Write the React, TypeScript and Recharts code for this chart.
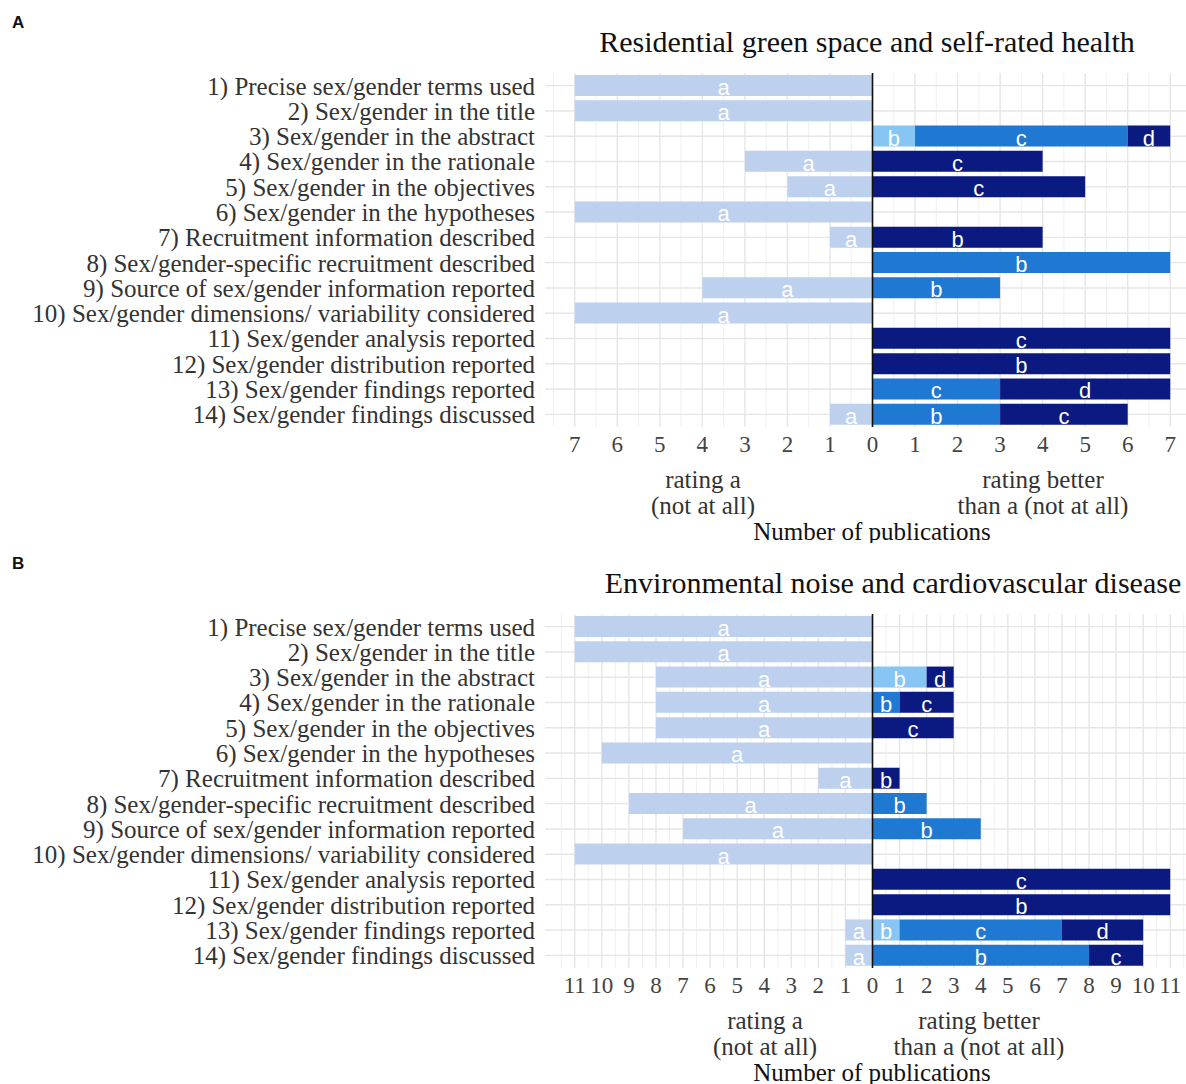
import React from 'react';
import { BarChart, Bar, XAxis, YAxis, CartesianGrid, ReferenceLine, LabelList, Cell } from 'recharts';

const categories = [
  '1) Precise sex/gender terms used',
  '2) Sex/gender in the title',
  '3) Sex/gender in the abstract',
  '4) Sex/gender in the rationale',
  '5) Sex/gender in the objectives',
  '6) Sex/gender in the hypotheses',
  '7) Recruitment information described',
  '8) Sex/gender-specific recruitment described',
  '9) Source of sex/gender information reported',
  '10) Sex/gender dimensions/ variability considered',
  '11) Sex/gender analysis reported',
  '12) Sex/gender distribution reported',
  '13) Sex/gender findings reported',
  '14) Sex/gender findings discussed',
];

// best rating available on each item's scale (colour depends on distance from it)
const topRating = ['b', 'b', 'd', 'c', 'c', 'b', 'b', 'c', 'c', 'b', 'c', 'b', 'd', 'c'];

// A: residential green space and self-rated health
const greenA = [7, 7, 0, 3, 2, 7, 1, 0, 4, 7, 0, 0, 0, 1];
const greenB = [0, 0, 1, 0, 0, 0, 4, 7, 3, 0, 0, 7, 0, 3];
const greenC = [0, 0, 5, 4, 5, 0, 0, 0, 0, 0, 7, 0, 3, 3];
const greenD = [0, 0, 1, 0, 0, 0, 0, 0, 0, 0, 0, 0, 4, 0];

// B: environmental noise and cardiovascular disease
const noiseA = [11, 11, 8, 8, 8, 10, 2, 9, 7, 11, 0, 0, 1, 1];
const noiseB = [0, 0, 2, 1, 0, 0, 1, 2, 4, 0, 0, 11, 1, 8];
const noiseC = [0, 0, 0, 2, 3, 0, 0, 0, 0, 0, 11, 0, 6, 2];
const noiseD = [0, 0, 1, 0, 0, 0, 0, 0, 0, 0, 0, 0, 3, 0];

const levels = ['b', 'c', 'd'];
const shades = ['#0b1a80', '#1f78d1', '#86c5f4'];
const colorA = '#bdd0ee';
const serif = '"Liberation Serif", "Times New Roman", serif';
const sans = '"Liberation Sans", Arial, sans-serif';

function shade(letter: string, top: string) {
  return shades[levels.indexOf(top) - levels.indexOf(letter)] ?? shades[0];
}

const SegmentLabel = (letter: string) => (props: any) => {
  const { x, y, width, height, value } = props;
  if (!value) return null;
  return (
    <text
      x={x + width / 2}
      y={y + height / 2 + 2}
      fill="#fff"
      fontFamily={sans}
      fontSize={22}
      textAnchor="middle"
      dominantBaseline="central"
    >
      {letter}
    </text>
  );
};

interface PanelProps {
  letter: string;
  title: string;
  titleX: number;
  a: number[];
  b: number[];
  c: number[];
  d: number[];
  max: number;
  top: number;
  leftCenter: number;
  rightCenter: number;
}

function Panel({ letter, title, titleX, a, b, c, d, max, top, leftCenter, rightCenter }: PanelProps) {
  const data = categories.map((name, i) => ({
    name,
    a: -a[i],
    b: b[i],
    c: c[i],
    d: d[i],
    top: topRating[i],
  }));
  const lo = -max * 1.1;
  const hi = max * 1.1;
  const ticks: number[] = [];
  for (let v = -max; v <= max; v++) ticks.push(v);
  const minor: number[] = [];
  for (let v = -max - 0.5; v <= max + 0.5; v++) minor.push(v);

  const xPos = (offset: any, v: number) => offset.left + ((v - lo) / (hi - lo)) * offset.width;

  const textStyle: React.CSSProperties = {
    position: 'absolute',
    fontFamily: serif,
    fontSize: 25,
    color: '#333',
    whiteSpace: 'nowrap',
    transform: 'translate(-50%, -50%)',
    lineHeight: 1,
  };

  return (
    <div style={{ position: 'absolute', left: 0, top, width: 1186, height: 543, overflow: 'hidden' }}>
      <div style={{ position: 'absolute', left: 12, top: 13, fontFamily: sans, fontWeight: 'bold', fontSize: 17, color: '#111' }}>
        {letter}
      </div>
      <div style={{ ...textStyle, left: titleX, top: 42, fontSize: 30, color: '#111' }}>{title}</div>
      <div style={{ position: 'absolute', left: 0, top: 0 }}>
        <BarChart
          width={1200}
          height={460}
          data={data}
          layout="vertical"
          stackOffset="sign"
          barSize={21}
          barCategoryGap={0}
          margin={{ top: 73, right: 0, bottom: 0, left: 0 }}
        >
          <CartesianGrid
            horizontal={false}
            stroke="#ececec"
            strokeWidth={0.8}
            verticalCoordinatesGenerator={({ offset }: any) => minor.map((v) => xPos(offset, v))}
          />
          <CartesianGrid
            stroke="#e6e6e6"
            strokeWidth={1.4}
            verticalCoordinatesGenerator={({ offset }: any) => ticks.map((v) => xPos(offset, v))}
            horizontalCoordinatesGenerator={({ offset }: any) =>
              categories.map((_, i) => offset.top + ((i + 0.5) * offset.height) / categories.length)
            }
          />
          <XAxis
            type="number"
            domain={[lo, hi]}
            ticks={ticks}
            interval={0}
            tickFormatter={(v: number) => String(Math.abs(v))}
            tickLine={false}
            axisLine={false}
            tickSize={0}
            tickMargin={9}
            height={33}
            tick={{ fontFamily: serif, fontSize: 23, fill: '#444' }}
          />
          <YAxis
            type="category"
            dataKey="name"
            width={545}
            tickLine={false}
            axisLine={false}
            tickSize={0}
            tickMargin={10}
            interval={0}
            tick={{ fontFamily: serif, fontSize: 25, fill: '#333' }}
          />
          <Bar dataKey="a" stackId="s" fill={colorA} isAnimationActive={false}>
            <LabelList dataKey="a" content={SegmentLabel('a')} />
          </Bar>
          <Bar dataKey="b" stackId="s" isAnimationActive={false}>
            {data.map((row, i) => (
              <Cell key={i} fill={shade('b', row.top)} />
            ))}
            <LabelList dataKey="b" content={SegmentLabel('b')} />
          </Bar>
          <Bar dataKey="c" stackId="s" isAnimationActive={false}>
            {data.map((row, i) => (
              <Cell key={i} fill={shade('c', row.top)} />
            ))}
            <LabelList dataKey="c" content={SegmentLabel('c')} />
          </Bar>
          <Bar dataKey="d" stackId="s" isAnimationActive={false}>
            {data.map((row, i) => (
              <Cell key={i} fill={shade('d', row.top)} />
            ))}
            <LabelList dataKey="d" content={SegmentLabel('d')} />
          </Bar>
          <ReferenceLine x={0} stroke="#111" strokeWidth={1.6} />
        </BarChart>
      </div>
      <div style={{ ...textStyle, left: leftCenter, top: 479 }}>rating a</div>
      <div style={{ ...textStyle, left: leftCenter, top: 505 }}>(not at all)</div>
      <div style={{ ...textStyle, left: rightCenter, top: 479 }}>rating better</div>
      <div style={{ ...textStyle, left: rightCenter, top: 505 }}>than a (not at all)</div>
      <div style={{ ...textStyle, left: 872, top: 531, color: '#111' }}>Number of publications</div>
    </div>
  );
}

export default function App() {
  return (
    <div style={{ position: 'absolute', left: 0, top: 0, width: 1186, height: 1084, background: '#fff', overflow: 'hidden' }}>
      <Panel
        letter="A"
        title="Residential green space and self-rated health"
        titleX={867}
        a={greenA}
        b={greenB}
        c={greenC}
        d={greenD}
        max={7}
        top={0}
        leftCenter={703}
        rightCenter={1043}
      />
      <Panel
        letter="B"
        title="Environmental noise and cardiovascular disease"
        titleX={893}
        a={noiseA}
        b={noiseB}
        c={noiseC}
        d={noiseD}
        max={11}
        top={541}
        leftCenter={765}
        rightCenter={979}
      />
    </div>
  );
}
